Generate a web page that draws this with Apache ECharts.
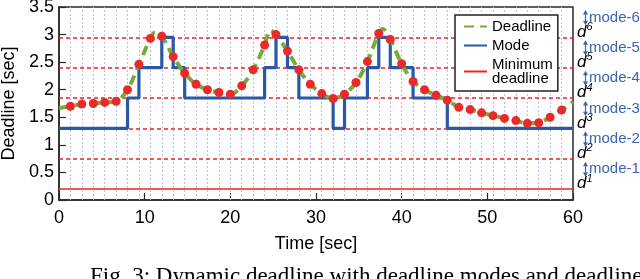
<!DOCTYPE html>
<html><head><meta charset="utf-8">
<script src="https://cdn.jsdelivr.net/npm/echarts@6/dist/echarts.min.js"></script>
<style>html,body{margin:0;padding:0;background:#fff;}#c{width:640px;height:279px;}</style>
</head><body><div id="c"></div>
<script>
// ---- data ----
const thresholds = [0.2, 0.75, 1.3, 1.85, 2.4, 2.95];
const thresholdNames = ['1', '2', '3', '4', '5', '6'];
const modeNames = ['mode-1', 'mode-2', 'mode-3', 'mode-4', 'mode-5', 'mode-6'];
const xTicks = [0, 10, 20, 30, 40, 50, 60];
const yTicks = [0, 0.5, 1, 1.5, 2, 2.5, 3, 3.5];

const sampleTimes = [1.33, 2.67, 4, 5.33, 6.67, 8, 9.33, 10.67, 12, 13.33, 14.67, 16, 17.33, 18.67, 20,
  21.33, 22.67, 24, 25.33, 26.67, 28, 29.33, 30.67, 32, 33.33, 34.67, 36, 37.33, 38.67, 40, 41.33,
  42.67, 44, 45.33, 46.67, 48, 49.33, 50.67, 52, 53.33, 54.67, 56, 57.33, 58.67];
const sampleValues = [1.70, 1.74, 1.75, 1.77, 1.79, 2.00, 2.46, 2.93, 2.97, 2.60, 2.30, 2.10, 2.00, 1.95, 1.92,
  2.07, 2.36, 2.81, 3.00, 2.70, 2.36, 2.10, 1.93, 1.84, 1.92, 2.13, 2.51, 3.02, 2.91, 2.47, 2.15,
  2.00, 1.90, 1.81, 1.68, 1.64, 1.58, 1.53, 1.48, 1.44, 1.39, 1.40, 1.50, 1.63];

const deadlineTimes = [0, 1.33, 2.67, 4, 5.33, 6.67, 8, 9.33, 10.67, 11.2, 12, 13.33, 14.67, 16, 17.33, 18.67, 20,
  21.33, 22.67, 24, 24.7, 25.33, 26.67, 28, 29.33, 30.67, 32, 33.33, 34.67, 36, 37.33, 37.8, 38.67, 40, 41.33,
  42.67, 44, 45.33, 46.67, 48, 49.33, 50.67, 52, 53.33, 54.67, 56, 57.33, 58.67, 60];
const deadlineValues = [1.67, 1.70, 1.74, 1.75, 1.77, 1.79, 2.00, 2.46, 2.93, 3.04, 2.97, 2.60, 2.30, 2.10, 2.00, 1.95, 1.92,
  2.07, 2.36, 2.81, 3.07, 3.00, 2.70, 2.36, 2.10, 1.93, 1.84, 1.92, 2.13, 2.51, 3.02, 3.10, 2.91, 2.47, 2.15,
  2.00, 1.90, 1.81, 1.68, 1.64, 1.58, 1.53, 1.48, 1.44, 1.39, 1.40, 1.50, 1.63, 1.78];

const modeTimes = [0, 8, 9.33, 12, 13.33, 14.67, 24, 25.33, 26.67, 28, 32, 33.33, 36, 37.33, 38.67, 41.33, 45.33, 60];
const modeValues = [1.3, 1.85, 2.4, 2.95, 2.4, 1.85, 2.4, 2.95, 2.4, 1.85, 1.3, 1.85, 2.4, 2.95, 2.4, 1.85, 1.3, 1.3];

const caption = 'Fig. 3: Dynamic deadline with deadline modes and deadlines.';

// ---- styles ----
const FONT = '"Liberation Sans", Arial, sans-serif';
const SERIF = '"Liberation Serif", "Times New Roman", serif';
const GREEN = '#76aa3a', BLUE = '#2a58a6', RED = '#f02020', DOT = '#ea2a2a', LBLUE = '#3a64b4';

const zip = (a, b) => a.map((v, i) => [v, b[i]]);

const chart = echarts.init(document.getElementById('c'), null, {renderer: 'canvas'});
const option = {
  animation: false,
  backgroundColor: '#fff',
  textStyle: {fontFamily: FONT},
  grid: {left: 59, right: 67, top: 7, bottom: 79, show: true, borderColor: '#2a2a2a', borderWidth: 1.5,
    backgroundColor: 'transparent', containLabel: false, outerBoundsMode: 'none'},
  xAxis: {
    type: 'value', min: xTicks[0], max: xTicks[xTicks.length - 1], interval: 10,
    axisLine: {show: true, lineStyle: {color: '#2a2a2a', width: 1.5}},
    axisTick: {show: true, inside: true, length: 7, lineStyle: {color: '#2a2a2a', width: 1.2}},
    axisLabel: {fontSize: 18, color: '#000', fontFamily: FONT, margin: 9},
    splitLine: {show: false},
    name: 'Time [sec]', nameLocation: 'middle', nameGap: 35,
    nameTextStyle: {fontSize: 18, color: '#000', fontFamily: FONT}
  },
  yAxis: {
    type: 'value', min: yTicks[0], max: yTicks[yTicks.length - 1], interval: 0.5,
    axisLine: {show: true, lineStyle: {color: '#2a2a2a', width: 1.5}},
    axisTick: {show: true, inside: true, length: 7, lineStyle: {color: '#2a2a2a', width: 1.2}},
    axisLabel: {fontSize: 18, color: '#000', fontFamily: FONT, margin: 5},
    splitLine: {show: false},
    name: 'Deadline [sec]', nameLocation: 'middle', nameGap: 41,
    nameTextStyle: {fontSize: 18, color: '#000', fontFamily: FONT}
  },
  legend: {
    orient: 'vertical', left: 455, top: 15, z: 20,
    data: ['Deadline', 'Mode', 'Minimum deadline'],
    formatter: n => n === 'Minimum deadline' ? 'Minimum\ndeadline' : n,
    backgroundColor: '#fff', borderColor: '#222', borderWidth: 1.5,
    padding: [4, 5, 5, 8], itemGap: 4, itemWidth: 23, itemHeight: 14,
    itemStyle: {color: 'rgba(0,0,0,0)', borderWidth: 0, opacity: 0},
    textStyle: {fontSize: 15, color: '#000', fontFamily: FONT, lineHeight: 14}
  },
  series: [
    {
      name: 'grid', type: 'line', data: [], silent: true, z: 1,
      markLine: {
        silent: true, symbol: 'none', label: {show: false}, z: 1,
        lineStyle: {color: '#b4c0ea', type: [2, 2], width: 1},
        data: sampleTimes.map(t => ({xAxis: t}))
      }
    },
    {
      name: 'thr', type: 'line', data: [], silent: true, z: 2,
      markLine: {
        silent: true, symbol: 'none', label: {show: false}, z: 2,
        lineStyle: {color: RED, type: [4, 3], width: 1.6},
        data: thresholds.slice(1).map(v => ({yAxis: v}))
      }
    },
    {
      name: 'Minimum deadline', type: 'line', z: 3, symbol: 'none',
      data: [[xTicks[0], thresholds[0]], [xTicks[xTicks.length - 1], thresholds[0]]],
      lineStyle: {color: RED, width: 1.6}, itemStyle: {color: RED}
    },
    {
      name: 'Mode', type: 'line', z: 10, symbol: 'none', step: 'end',
      data: zip(modeTimes, modeValues),
      lineStyle: {color: BLUE, width: 3.2}, itemStyle: {color: BLUE}
    },
    {
      name: 'Deadline', type: 'line', z: 11, symbol: 'none', smooth: 0.35,
      data: zip(deadlineTimes, deadlineValues),
      lineStyle: {color: GREEN, width: 4, type: [10, 6]}, itemStyle: {color: GREEN}
    },
    {
      name: 'samples', type: 'scatter', z: 12, symbolSize: 9,
      data: zip(sampleTimes, sampleValues),
      itemStyle: {color: DOT, opacity: 1}
    }
  ]
};
chart.setOption(option);

// right-side annotations placed through the chart's own scale
const graphics = [];
const px = (x, y) => chart.convertToPixel({gridIndex: 0}, [x, y]);
const xEnd = xTicks[xTicks.length - 1];
const xRight = px(xEnd, 0)[0];
thresholds.forEach((v, i) => {
  const y = px(xEnd, v)[1];
  graphics.push({
    type: 'text', x: xRight + 4, y: y - 5.5, z: 100,
    style: {
      text: '{d|d}{s|' + thresholdNames[i] + '}',
      verticalAlign: 'middle', align: 'left',
      rich: {
        d: {fontSize: 17, fontStyle: 'italic', fontFamily: FONT, fill: '#000'},
        s: {fontSize: 11, fontStyle: 'italic', fontFamily: FONT, fill: '#000', verticalAlign: 'top', padding: [0, 0, 10, 0]}
      }
    }
  });
});
modeNames.forEach((name, i) => {
  const lower = thresholds[i];
  const upper = i + 1 < thresholds.length ? thresholds[i + 1] : yTicks[yTicks.length - 1];
  const yU = px(xEnd, upper)[1], yL = px(xEnd, lower)[1];
  const top = yU + 3, bot = yL - 12;
  const ax = xRight + 12.5;
  graphics.push({type: 'line', z: 100, shape: {x1: ax, y1: top + 2, x2: ax, y2: bot - 2}, style: {stroke: LBLUE, lineWidth: 1.2}});
  graphics.push({type: 'polygon', z: 100, shape: {points: [[ax, top], [ax - 2.5, top + 4.5], [ax + 2.5, top + 4.5]]}, style: {fill: LBLUE}});
  graphics.push({type: 'polygon', z: 100, shape: {points: [[ax, bot], [ax - 2.5, bot - 4.5], [ax + 2.5, bot - 4.5]]}, style: {fill: LBLUE}});
  graphics.push({
    type: 'text', z: 100, x: ax + 3.5, y: (top + bot) / 2,
    style: {text: name, fontSize: 15, fontFamily: FONT, fill: LBLUE, verticalAlign: 'middle', align: 'left'}
  });
});
graphics.push({
  type: 'text', z: 100, x: 90, y: 265,
  style: {text: caption, fontSize: 23, fontFamily: SERIF, fill: '#000', verticalAlign: 'top', align: 'left'}
});
chart.setOption({graphic: graphics});
</script>
</body></html>
